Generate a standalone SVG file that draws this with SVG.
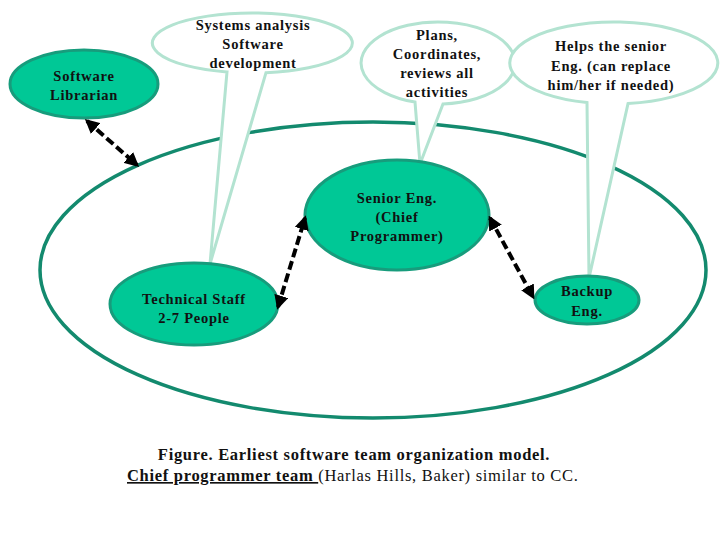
<svg xmlns="http://www.w3.org/2000/svg" width="720" height="540" viewBox="0 0 720 540">
<defs>
<style>
.node{fill:#00C896;stroke:#179C7C;stroke-width:3}
.call{fill:#ffffff;stroke:#B3E3D1;stroke-width:3;stroke-linejoin:miter}
.t{font-family:"Liberation Serif","Times New Roman",serif;font-size:14.5px;font-weight:bold;fill:#111;text-anchor:middle;letter-spacing:0.75px}
.cap{font-family:"Liberation Serif","Times New Roman",serif;font-size:16.5px;fill:#111;letter-spacing:0.7px}
.conn{stroke:#000;stroke-width:4;stroke-dasharray:9,4;fill:none;marker-start:url(#ah);marker-end:url(#ah)}
</style>
<marker id="ah" viewBox="0 0 10 10" refX="8" refY="5" markerWidth="3.6" markerHeight="3.6" orient="auto-start-reverse" markerUnits="strokeWidth">
<path d="M0,0 L10,5 L0,10 Z" fill="#000"/>
</marker>
</defs>
<rect width="720" height="540" fill="#ffffff"/>
<g id="team">
<ellipse cx="373" cy="270" rx="333" ry="148" fill="none" stroke="#138A6E" stroke-width="3.5"/>
</g>
<g id="callout-systems">
<path class="call" d="M266,72.7 A100,30 0 1 0 227,72 L210,264 Z"/>
<text class="t" x="253" y="30">Systems analysis</text>
<text class="t" x="253" y="49">Software</text>
<text class="t" x="253" y="68">development</text>
</g>
<g id="callout-plans">
<path class="call" d="M443,103.9 A77,41 0 1 0 415,102.1 L420,164 Z"/>
<text class="t" x="437" y="40">Plans,</text>
<text class="t" x="437" y="59">Coordinates,</text>
<text class="t" x="437" y="78">reviews all</text>
<text class="t" x="437" y="97">activities</text>
</g>
<g id="callout-helps">
<path class="call" d="M628,103.6 A104,41 0 1 0 587,102.6 L589,278 Z"/>
<text class="t" x="611" y="51">Helps the senior</text>
<text class="t" x="611" y="71">Eng. (can replace</text>
<text class="t" x="611" y="90">him/her if needed)</text>
</g>
<g id="librarian">
<ellipse class="node" cx="84" cy="84" rx="74" ry="34"/>
<text class="t" x="84" y="81">Software</text>
<text class="t" x="84" y="100">Librarian</text>
</g>
<g id="senior">
<ellipse class="node" cx="397" cy="215" rx="92" ry="55"/>
<text class="t" x="397" y="203">Senior Eng.</text>
<text class="t" x="397" y="222">(Chief</text>
<text class="t" x="397" y="241">Programmer)</text>
</g>
<g id="technical">
<ellipse class="node" cx="194" cy="304" rx="84" ry="41"/>
<text class="t" x="194" y="304">Technical Staff</text>
<text class="t" x="194" y="323">2-7 People</text>
</g>
<g id="backup">
<ellipse class="node" cx="587" cy="300" rx="52" ry="24"/>
<text class="t" x="587" y="296">Backup</text>
<text class="t" x="587" y="316">Eng.</text>
</g>
<g id="connectors">
<line class="conn" x1="87" y1="121" x2="137" y2="165"/>
<line class="conn" x1="278" y1="307" x2="305" y2="218"/>
<line class="conn" x1="490" y1="218" x2="533" y2="297"/>
</g>
<g id="caption">
<text class="cap" x="354" y="460" text-anchor="middle" font-weight="bold">Figure. Earliest software team organization model.</text>
<text class="cap" x="127" y="481"><tspan font-weight="bold" text-decoration="underline">Chief  programmer team </tspan>(Harlas Hills, Baker) similar to CC.</text>
</g>
</svg>
